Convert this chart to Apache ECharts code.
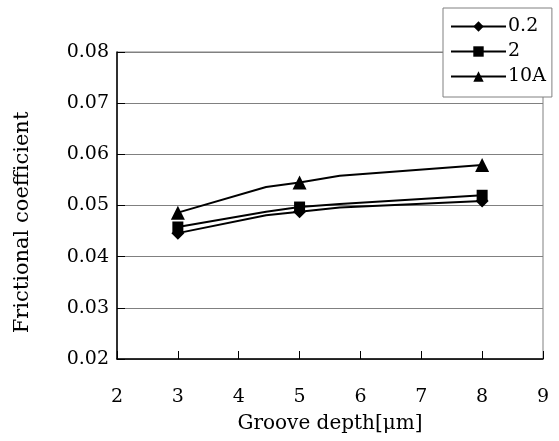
<!DOCTYPE html>
<html>
<head>
<meta charset="utf-8">
<script src="https://cdn.jsdelivr.net/npm/echarts@6/dist/echarts.min.js"></script>
<style>
  html, body { margin: 0; padding: 0; background: #fff; }
  #chart { width: 559px; height: 441px; }
</style>
</head>
<body>
<div id="chart"></div>
<script>
// 溝深さ（x）とマーカーを付ける点
var depth = [3, 4.45, 5, 5.66, 8];
var markAt = [3, 5, 8];
var names = ['0.2', '2', '10A'];
var symbols = ['diamond', 'rect', 'triangle'];
var symbolSizes = [13, 11, 14];

// 摩擦係数
var mu02 = [0.0446, 0.0481, 0.0488, 0.0496, 0.0509];
var mu2 = [0.0458, 0.0488, 0.0497, 0.0503, 0.0520];
var mu10A = [0.0486, 0.0536, 0.0545, 0.0558, 0.0579];

var yTicks = [0.02, 0.03, 0.04, 0.05, 0.06, 0.07, 0.08];

var font = 'DejaVu Serif';
var chart = echarts.init(document.getElementById('chart'));

function toData(ys) {
    return depth.map(function (x, i) {
        var item = { value: [x, ys[i]] };
        if (markAt.indexOf(x) < 0) item.symbol = 'none';
        return item;
    });
}

var series = [mu02, mu2, mu10A].map(function (ys, k) {
    return {
        name: names[k],
        type: 'line',
        data: toData(ys),
        symbol: symbols[k],
        symbolSize: symbolSizes[k],
        lineStyle: { color: '#000', width: 2 },
        itemStyle: { color: '#000' },
        z: 3 + k
    };
});

var option = {
    animation: false,
    textStyle: { fontFamily: font, color: '#000' },
    grid: {
        left: 117, right: 16, top: 52, bottom: 82,
        show: true, borderColor: '#808080', borderWidth: 1
    },
    legend: {
        orient: 'vertical',
        left: 443, top: 8,
        padding: [9, 6, 11, 7],
        itemWidth: 55, itemHeight: 13, itemGap: 6,
        borderColor: '#808080', borderWidth: 1, borderRadius: 0,
        backgroundColor: '#fff',
        textStyle: { fontFamily: font, fontSize: 19, color: '#000', padding: [0, 0, 0, -3] },
        data: names
    },
    xAxis: {
        type: 'value', min: 2, max: 9, interval: 1,
        name: 'Groove depth[μm]', nameLocation: 'middle', nameGap: 55,
        nameTextStyle: { fontFamily: font, fontSize: 20, color: '#000' },
        axisLine: { lineStyle: { color: '#000', width: 1.5 } },
        axisTick: { inside: true, length: 8, lineStyle: { color: '#000' } },
        axisLabel: { margin: 29, fontFamily: font, fontSize: 19, color: '#000' },
        splitLine: { show: false }
    },
    yAxis: {
        type: 'value', min: yTicks[0], max: yTicks[yTicks.length - 1], interval: 0.01,
        name: 'Frictional coefficient', nameLocation: 'middle', nameGap: 84,
        nameTextStyle: { fontFamily: font, fontSize: 21, color: '#000', padding: [0, 34, 0, 0] },
        axisLine: { show: true, lineStyle: { color: '#000', width: 1.5 } },
        axisTick: { show: true, inside: true, length: 8, lineStyle: { color: '#000' } },
        axisLabel: {
            margin: 8, fontFamily: font, fontSize: 19, color: '#000',
            formatter: function (v) { return v.toFixed(2); }
        },
        splitLine: { show: true, lineStyle: { color: '#808080', width: 1 } }
    },
    series: series
};

chart.setOption(option);
</script>
</body>
</html>
